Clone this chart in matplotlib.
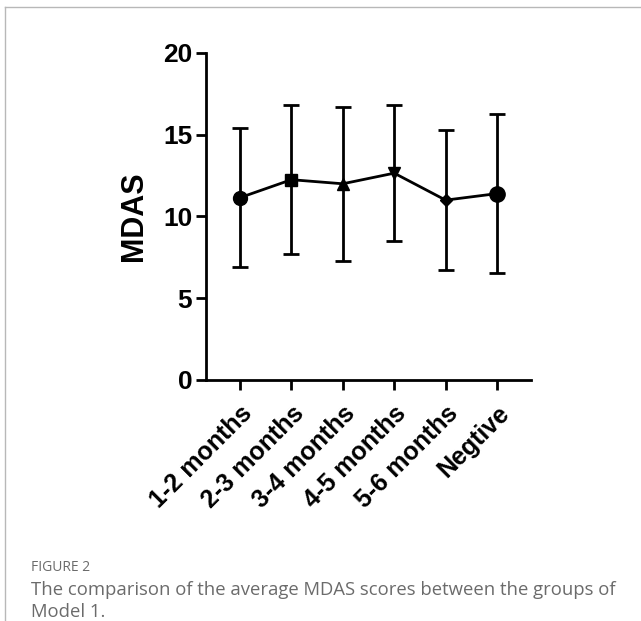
import matplotlib.pyplot as plt
from matplotlib.lines import Line2D

# Data
groups = ['1-2 months', '2-3 months', '3-4 months', '4-5 months', '5-6 months', 'Negtive']
means = [11.15, 12.25, 12.0, 12.65, 11.0, 11.4]
sds = [4.25, 4.55, 4.7, 4.15, 4.3, 4.85]
markers = ['o', 's', '^', 'v', 'D', 'o']
marker_sizes = [10, 9, 9, 9, 6, 11]
y_ticks = [0, 5, 10, 15, 20]

fig = plt.figure(figsize=(6.41, 6.21), dpi=100)
ax = fig.add_axes([0.3214, 0.3881, 0.507, 0.5266])

x = list(range(len(groups)))
ax.errorbar(x, means, yerr=sds, fmt='none', ecolor='black', elinewidth=2,
            capsize=6, capthick=2, zorder=2)
ax.plot(x, means, color='black', linewidth=2, zorder=3)
for xi, m, mk, ms in zip(x, means, markers, marker_sizes):
    ax.plot(xi, m, marker=mk, markersize=ms, color='black', zorder=4)

ax.set_xlim(-0.66, 5.66)
ax.set_ylim(0, 20)
ax.set_yticks(y_ticks)
ax.set_xticks(x)
ax.set_xticklabels(groups, rotation=45, ha='right', rotation_mode='anchor',
                   fontsize=18, fontweight='bold', family='Liberation Sans')
for lab in ax.get_yticklabels():
    lab.set_fontsize(19)
    lab.set_fontweight('bold')
    lab.set_family('Liberation Sans')
ax.set_ylabel('MDAS', fontsize=22, fontweight='bold', family='Liberation Sans', labelpad=10)

for side in ['top', 'right']:
    ax.spines[side].set_visible(False)
for side in ['left', 'bottom']:
    ax.spines[side].set_linewidth(2)
ax.tick_params(axis='y', length=7, width=2, pad=3)
ax.tick_params(axis='x', length=7, width=2, pad=8)

# Page frame and caption
fig.add_artist(Line2D([0.008, 1.0], [0.989, 0.989], color='#b8b8b8', linewidth=1))
fig.add_artist(Line2D([0.008, 0.008], [0.0, 0.989], color='#b8b8b8', linewidth=1))
fig.text(0.048, 0.08, 'FIGURE 2', fontsize=10, color='#6b6b6b', family='Open Sans')
fig.text(0.048, 0.064, 'The comparison of the average MDAS scores between the groups of\nModel 1.',
         fontsize=13.3, color='#6b6b6b', family='Open Sans', va='top', linespacing=1.25)

fig.savefig('out.png', dpi=100)
